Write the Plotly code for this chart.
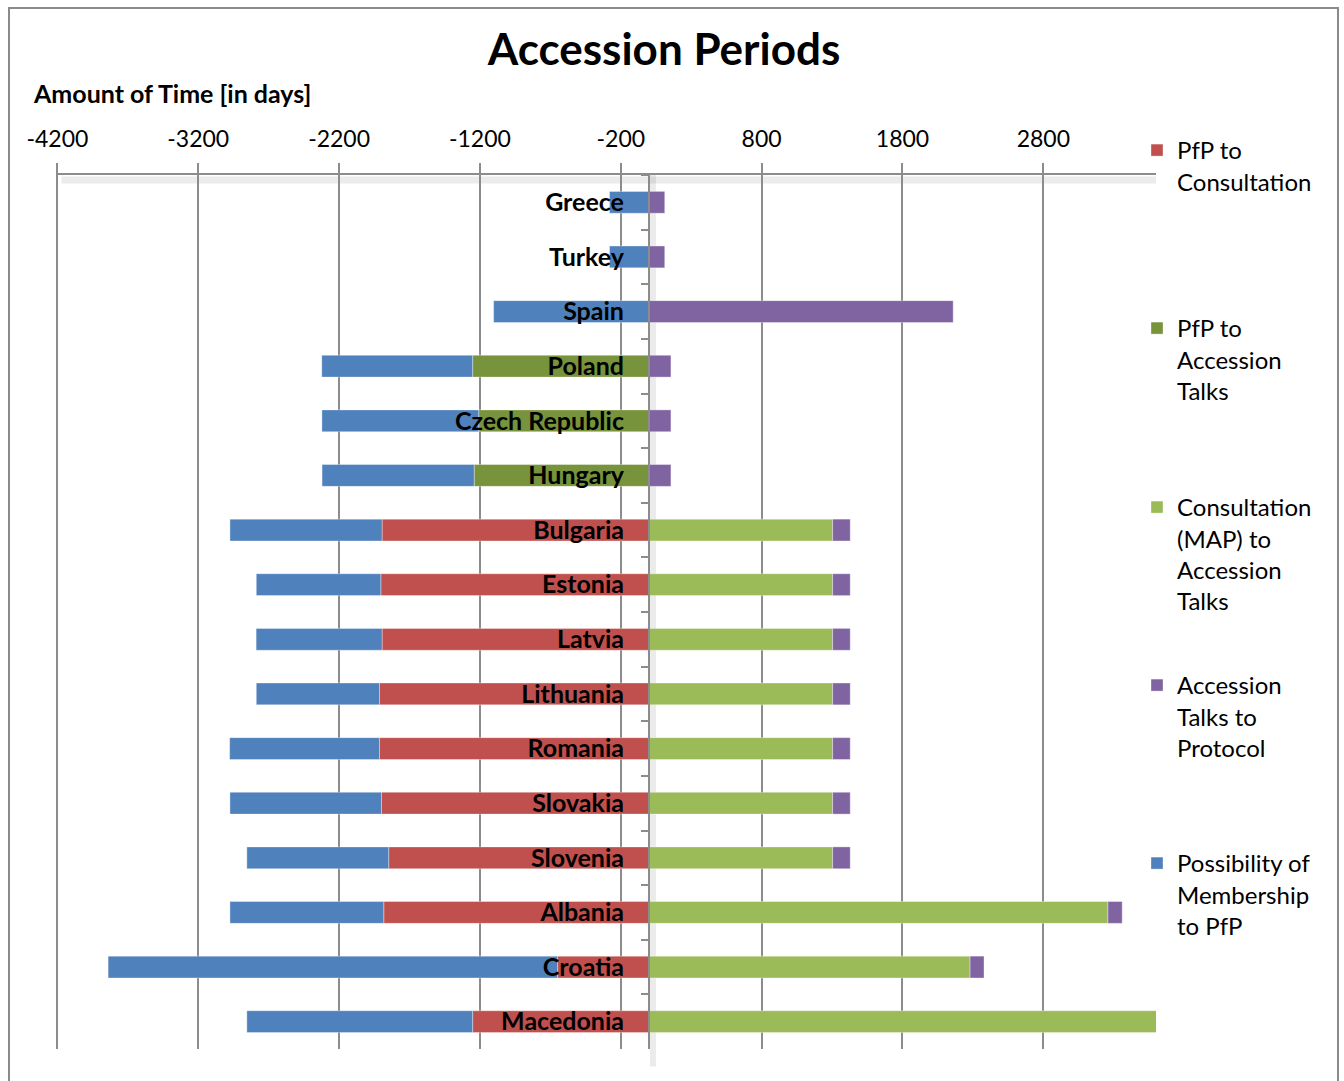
import plotly.graph_objects as go

countries = ["Greece", "Turkey", "Spain", "Poland", "Czech Republic", "Hungary",
             "Bulgaria", "Estonia", "Latvia", "Lithuania", "Romania", "Slovakia",
             "Slovenia", "Albania", "Croatia", "Macedonia"]

# values in days as plotted (negative = left of zero)
pfp_to_consultation = [None, None, None, None, None, None,
                       -1895, -1904, -1895, -1913, -1913, -1899, -1848, -1883, -649, -1252]
pfp_to_accession_talks = [None, None, None, -1252, -1209, -1241,
                          None, None, None, None, None, None, None, None, None, None]
consultation_to_accession_talks = [None, None, None, None, None, None,
                                   1304, 1304, 1304, 1304, 1304, 1304, 1304, 3259, 2280, 3621]
accession_talks_to_protocol = [112, 112, 2160, 156, 156, 156,
                               125, 125, 125, 125, 125, 125, 125, 101, 99, None]
possibility_to_pfp = [-280, -280, -1103, -1071, -1113, -1080,
                      -1080, -884, -894, -875, -1064, -1076, -1007, -1092, -3191, -1603]

tick_values = [-4200, -3200, -2200, -1200, -200, 800, 1800, 2800]
x_range = [-4210, 3600]

series = [
    ("PfP to<br>Consultation", pfp_to_consultation, "#C0504D", "legend"),
    ("PfP to<br>Accession<br>Talks", pfp_to_accession_talks, "#77933C", "legend2"),
    ("Consultation<br>(MAP) to<br>Accession<br>Talks", consultation_to_accession_talks, "#9BBB59", "legend3"),
    ("Accession<br>Talks to<br>Protocol", accession_talks_to_protocol, "#8064A2", "legend4"),
    ("Possibility of<br>Membership<br>to PfP", possibility_to_pfp, "#4F81BD", "legend5"),
]

FONT = "Lato"
W, H = 1344, 1081
ML, MR, MT, MB = 56, 188, 175, 32
pw, ph = W - ML - MR, H - MT - MB

fig = go.Figure()
for name, vals, color, leg in series:
    fig.add_trace(go.Bar(
        y=countries, x=vals, name=name, orientation="h",
        marker=dict(color=color, line=dict(color="rgba(255,255,255,0.35)", width=1)),
        width=0.4, legend=leg,
    ))

legend_tops = [128, 306, 485, 663, 841]
legend_names = ["legend", "legend2", "legend3", "legend4", "legend5"]
leg_layout = {}
for ln, top in zip(legend_names, legend_tops):
    leg_layout[ln] = dict(
        xref="container", yref="container",
        x=1137 / W, y=1 - top / H, xanchor="left", yanchor="top",
        font=dict(family=FONT, size=24, color="#000000"),
        bgcolor="rgba(0,0,0,0)", borderwidth=0, valign="top",
    )

grid_color = "#8C8C8C"

fig.update_layout(
    template="none",
    width=W, height=H,
    margin=dict(l=ML, r=MR, t=MT, b=MB, autoexpand=False),
    barmode="relative",
    paper_bgcolor="white", plot_bgcolor="white",
    font=dict(family=FONT, color="#000000"),
    title=dict(text="<b>Accession Periods</b>", x=664 / W, xref="container",
               y=1 - 50 / H, yref="container", xanchor="center", yanchor="middle",
               font=dict(family=FONT, size=44, color="#000000")),
    xaxis=dict(
        side="top", range=x_range, tickvals=tick_values,
        ticktext=[str(v) for v in tick_values],
        showgrid=True, gridcolor=grid_color, gridwidth=2,
        zeroline=False, showline=True, linecolor=grid_color, linewidth=2,
        ticks="outside", ticklen=10, tickwidth=2, tickcolor=grid_color,
        tickfont=dict(family=FONT, size=23, color="#000000"),
        ticklabelstandoff=7, automargin=False, fixedrange=True,
    ),
    yaxis=dict(
        autorange="reversed", type="category",
        anchor="free", position=(0 - x_range[0]) / (x_range[1] - x_range[0]),
        showgrid=False, zeroline=False,
        showline=True, linecolor=grid_color, linewidth=2,
        ticks="outside", tickson="boundaries", ticklen=7, tickwidth=2, tickcolor=grid_color,
        tickfont=dict(family=FONT, size=25, color="#000000", weight="bold"),
        ticklabelstandoff=19, automargin=False, layer="above traces", fixedrange=True,
    ),
    showlegend=True,
    **leg_layout,
    annotations=[dict(
        text="<b>Amount of Time [in days]</b>", xref="paper", yref="paper",
        x=(31 - ML) / pw, y=(H - MB - 93) / ph, xanchor="left", yanchor="middle",
        showarrow=False, font=dict(family=FONT, size=25, color="#000000"),
    )],
    shapes=[
        # chart border
        dict(type="rect", xref="paper", yref="paper",
             x0=(9 - ML) / pw, x1=(1338 - ML) / pw,
             y0=(H - MB - 1090) / ph, y1=(H - MB - 8) / ph,
             line=dict(color="#8A8A8A", width=2), fillcolor="rgba(0,0,0,0)", layer="below"),
        # soft shadow under the top axis line
        dict(type="line", xref="paper", yref="paper", x0=0.005, x1=1.0,
             y0=1 - 5 / ph, y1=1 - 5 / ph,
             line=dict(color="rgba(0,0,0,0.08)", width=7), layer="below"),
        # soft shadow beside the vertical axis line
        dict(type="line", xref="x", yref="paper", xsizemode="pixel", xanchor=0,
             x0=4, x1=4, y0=-0.02, y1=1.0,
             line=dict(color="rgba(0,0,0,0.08)", width=6), layer="below"),
    ],
)

fig.write_html("out.html")
